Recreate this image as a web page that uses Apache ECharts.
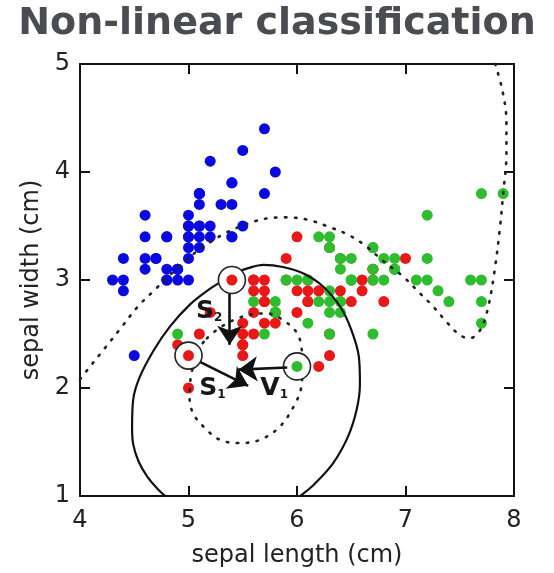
<!DOCTYPE html>
<html><head><meta charset="utf-8">
<script src="https://cdn.jsdelivr.net/npm/echarts@6/dist/echarts.min.js"></script>
<style>html,body{margin:0;padding:0;background:#fff}#c{width:554px;height:573px}</style>
</head><body><div id="c"></div>
<script>
// Iris sepal length / sepal width
const setosa = [[5.1,3.5],[4.9,3.0],[4.7,3.2],[4.6,3.1],[5.0,3.6],[5.4,3.9],[4.6,3.4],[5.0,3.4],[4.4,2.9],[4.9,3.1],
[5.4,3.7],[4.8,3.4],[4.8,3.0],[4.3,3.0],[5.8,4.0],[5.7,4.4],[5.4,3.9],[5.1,3.5],[5.7,3.8],[5.1,3.8],
[5.4,3.4],[5.1,3.7],[4.6,3.6],[5.1,3.3],[4.8,3.4],[5.0,3.0],[5.0,3.4],[5.2,3.5],[5.2,3.4],[4.7,3.2],
[4.8,3.1],[5.4,3.4],[5.2,4.1],[5.5,4.2],[4.9,3.1],[5.0,3.2],[5.5,3.5],[4.9,3.1],[4.4,3.0],[5.1,3.4],
[5.0,3.5],[4.5,2.3],[4.4,3.2],[5.0,3.5],[5.1,3.8],[4.8,3.0],[5.1,3.8],[4.6,3.2],[5.3,3.7],[5.0,3.3]];
const versicolor = [[7.0,3.2],[6.4,3.2],[6.9,3.1],[5.5,2.3],[6.5,2.8],[5.7,2.8],[6.3,3.3],[4.9,2.4],[6.6,2.9],[5.2,2.7],
[5.0,2.0],[5.9,3.0],[6.0,2.2],[6.1,2.9],[5.6,2.9],[6.7,3.1],[5.6,3.0],[5.8,2.7],[6.2,2.2],[5.6,2.5],
[5.9,3.2],[6.1,2.8],[6.3,2.5],[6.1,2.8],[6.4,2.9],[6.6,3.0],[6.8,2.8],[6.7,3.0],[6.0,2.9],[5.7,2.6],
[5.5,2.4],[5.5,2.4],[5.8,2.7],[6.0,2.7],[5.4,3.0],[6.0,3.4],[6.7,3.1],[6.3,2.3],[5.6,3.0],[5.5,2.5],
[5.5,2.6],[6.1,3.0],[5.8,2.6],[5.0,2.3],[5.6,2.7],[5.7,3.0],[5.7,2.9],[6.2,2.9],[5.1,2.5],[5.7,2.8]];
const virginica = [[6.3,3.3],[5.8,2.7],[7.1,3.0],[6.3,2.9],[6.5,3.0],[7.6,3.0],[4.9,2.5],[7.3,2.9],[6.7,2.5],[7.2,3.6],
[6.5,3.2],[6.4,2.7],[6.8,3.0],[5.7,2.5],[5.8,2.8],[6.4,3.2],[6.5,3.0],[7.7,3.8],[7.7,2.6],[6.0,2.2],
[6.9,3.2],[5.6,2.8],[7.7,2.8],[6.3,2.7],[6.7,3.3],[7.2,3.2],[6.2,2.8],[6.1,3.0],[6.4,2.8],[7.2,3.0],
[7.4,2.8],[7.9,3.8],[6.4,2.8],[6.3,2.8],[6.1,2.6],[7.7,3.0],[6.3,3.4],[6.4,3.1],[6.0,3.0],[6.9,3.1],
[6.7,3.1],[6.9,3.1],[5.8,2.7],[6.8,3.2],[6.7,3.3],[6.7,3.0],[6.3,2.5],[6.5,3.0],[6.2,3.4],[5.9,3.0]];

// Non-linear decision boundary (dotted), outer branch and inner closed loop
const boundaryOuter = [[4.00,2.08],[4.07,2.17],[4.23,2.37],[4.38,2.56],[4.53,2.75],[4.69,2.91],[4.92,3.13],[5.07,3.26],
[5.20,3.35],[5.35,3.44],[5.57,3.53],[5.72,3.57],[5.90,3.58],[6.09,3.56],[6.30,3.49],[6.49,3.41],[6.64,3.31],
[6.79,3.18],[6.98,3.03],[7.13,2.88],[7.25,2.76],[7.38,2.61],[7.50,2.49],[7.59,2.46],[7.69,2.54],[7.76,2.74],
[7.82,3.08],[7.87,3.48],[7.90,3.80],[7.93,4.16],[7.93,4.47],[7.89,4.77],[7.82,5.02]];
const boundaryInner = [[5.17,2.46],[5.29,2.56],[5.44,2.64],[5.57,2.68],[5.72,2.69],[5.87,2.63],[6.00,2.51],[6.04,2.38],
[6.05,2.20],[6.04,2.01],[5.97,1.83],[5.84,1.64],[5.66,1.52],[5.47,1.49],[5.29,1.52],[5.14,1.64],[5.04,1.77],
[5.01,1.92],[5.02,2.09],[5.07,2.30],[5.12,2.40],[5.17,2.46]];
// Solid margin curve
const marginCurve = [[4.81,0.98],[4.72,1.06],[4.62,1.18],[4.54,1.32],[4.49,1.48],[4.48,1.64],[4.49,1.89],[4.55,2.10],
[4.68,2.35],[4.83,2.57],[5.01,2.77],[5.20,2.92],[5.33,3.00],[5.45,3.07],[5.55,3.11],[5.69,3.14],[5.87,3.12],
[6.06,3.06],[6.24,2.94],[6.40,2.75],[6.50,2.54],[6.57,2.29],[6.58,2.04],[6.55,1.80],[6.47,1.55],[6.33,1.30],
[6.15,1.10],[6.03,1.00],[5.98,0.96]];

// Highlighted points (support vectors)
const supportPoints = [[5.4,3.0],[5.0,2.3],[6.0,2.2]];
const supportClass = ['versicolor','versicolor','virginica'];
// Arrows: [from, to]
const arrows = [[[5.38,2.87],[5.38,2.40]],[[5.11,2.24],[5.55,2.02]],[[5.91,2.19],[5.46,2.17]]];
// Annotation labels
const annoLetters = ['S','S','V'];
const annoSubs = ['2','1','1'];
const annoAnchors = [[5.19,2.71],[5.22,2.00],[5.79,2.00]];

const xTicks = {min:4, max:8, step:1};
const yTicks = {min:1, max:5, step:1};

const classColor = {setosa:'#0a0ae0', versicolor:'#e81818', virginica:'#2ebd2e'};
const FONT = 'DejaVu Sans';

const axisCommon = {
  axisLine:{show:true, onZero:false, lineStyle:{color:'#111', width:2}},
  axisTick:{show:true, inside:true, length:10, lineStyle:{color:'#111', width:2}},
  splitLine:{show:false}
};
const chart = echarts.init(document.getElementById('c'), null, {renderer:'canvas'});
const dotted = {color:'#222', width:2.6, type:[1.5,8.5], cap:'round'};
const DOT = 11;
chart.setOption({
  animation:false,
  backgroundColor:'#fff',
  title:{text:'Non-linear classification', left:'center', top:0,
    textStyle:{fontFamily:FONT, fontWeight:'bold', fontSize:38, color:'#4b4b52'}},
  grid:{left:80, right:40, top:64, bottom:77, containLabel:false},
  xAxis:[
    Object.assign({type:'value', min:xTicks.min, max:xTicks.max, interval:xTicks.step, position:'bottom',
      axisLabel:{fontFamily:FONT, fontSize:24, color:'#222', margin:13, showMinLabel:true, showMaxLabel:true},
      name:'sepal length (cm)', nameLocation:'middle', nameGap:48,
      nameTextStyle:{fontFamily:FONT, fontSize:24, color:'#222'}}, axisCommon),
    Object.assign({type:'value', min:xTicks.min, max:xTicks.max, interval:xTicks.step, position:'top',
      axisLabel:{show:false}}, axisCommon)
  ],
  yAxis:[
    Object.assign({type:'value', min:yTicks.min, max:yTicks.max, interval:yTicks.step, position:'left',
      axisLabel:{fontFamily:FONT, fontSize:24, color:'#222', margin:10, showMinLabel:true, showMaxLabel:true},
      name:'sepal width (cm)', nameLocation:'middle', nameGap:27,
      nameTextStyle:{fontFamily:FONT, fontSize:24, color:'#222'}}, axisCommon),
    Object.assign({type:'value', min:yTicks.min, max:yTicks.max, interval:yTicks.step, position:'right',
      axisLabel:{show:false}}, axisCommon)
  ],
  series:[
    {type:'scatter', name:'setosa', data:setosa, symbolSize:DOT, itemStyle:{color:classColor.setosa, opacity:1}, z:2},
    {type:'scatter', name:'versicolor', data:versicolor, symbolSize:DOT, itemStyle:{color:classColor.versicolor, opacity:1}, z:2},
    {type:'scatter', name:'virginica', data:virginica, symbolSize:DOT, itemStyle:{color:classColor.virginica, opacity:1}, z:2},
    {type:'line', data:boundaryOuter, showSymbol:false, symbol:'none', smooth:0.35, lineStyle:dotted, z:3, silent:true},
    {type:'line', data:boundaryInner, showSymbol:false, symbol:'none', smooth:0.35, lineStyle:dotted, z:3, silent:true},
    {type:'line', data:marginCurve, showSymbol:false, symbol:'none', smooth:0.35, lineStyle:{color:'#111', width:2.2}, z:3, silent:true},
    {type:'scatter', data:supportPoints, symbolSize:27, itemStyle:{color:'#fff', opacity:1, borderColor:'#222', borderWidth:1.6}, z:4, silent:true},
    {type:'scatter', data:supportPoints.map((p,i)=>({value:p, itemStyle:{color:classColor[supportClass[i]], opacity:1}})), symbolSize:DOT, z:5, silent:true},
    {type:'line', data:[], z:6, silent:true,
      markLine:{silent:true, symbol:['none','arrow'], symbolSize:19, animation:false,
        label:{show:false}, lineStyle:{color:'#111', width:2.6, type:'solid'},
        emphasis:{disabled:true},
        data:arrows.map(a=>[{coord:a[0]},{coord:a[1]}])}},
    {type:'scatter', data:annoAnchors, symbolSize:0, itemStyle:{color:'#fff', opacity:1}, z:7, silent:true,
      label:{show:true, position:'inside', color:'#161616', fontFamily:FONT, fontWeight:'bold', fontSize:25,
        textBorderWidth:0,
        formatter:(p)=>'{m|'+annoLetters[p.dataIndex]+'}{s|'+annoSubs[p.dataIndex]+'}',
        rich:{m:{fontFamily:FONT, fontWeight:'bold', fontSize:25, color:'#161616', textBorderWidth:0},
              s:{fontFamily:FONT, fontWeight:'bold', fontSize:12, color:'#161616', textBorderWidth:0, verticalAlign:'bottom'}}}}
  ]
});
</script></body></html>
